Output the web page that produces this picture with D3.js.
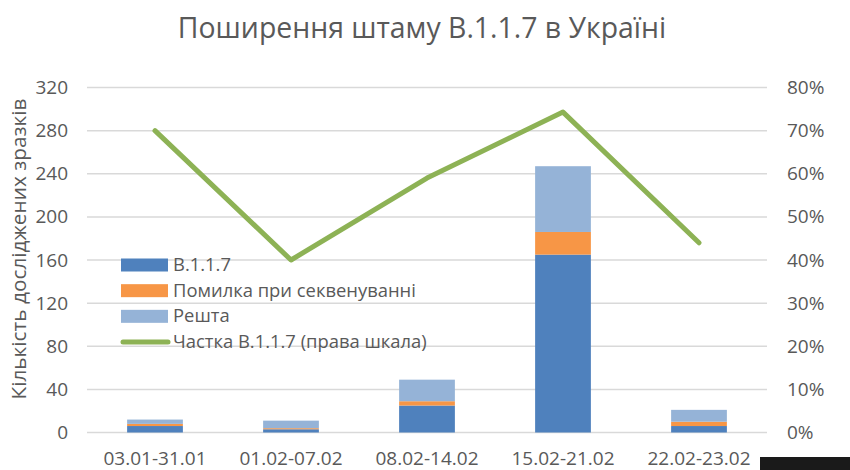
<!DOCTYPE html>
<html>
<head>
<meta charset="utf-8">
<script src="https://cdn.jsdelivr.net/npm/d3@7"></script>
<style>
  html, body { margin: 0; padding: 0; background: #fff; }
  text { font-family: "Open Sans", sans-serif; fill: #595959; }
</style>
</head>
<body>
<div id="chart"></div>
<script>
const categories = ["03.01-31.01", "01.02-07.02", "08.02-14.02", "15.02-21.02", "22.02-23.02"];
const b117 = [6, 3, 25, 165, 6];
const seqError = [2, 1, 4, 21, 4];
const rest = [4, 7, 20, 61, 11];
const share = [0.70, 0.40, 0.59, 0.743, 0.44];
const leftTicks = [0, 40, 80, 120, 160, 200, 240, 280, 320];
const rightTicks = [0, 0.1, 0.2, 0.3, 0.4, 0.5, 0.6, 0.7, 0.8];
const seriesNames = ["B.1.1.7", "Помилка при секвенуванні", "Решта"];
const lineName = "Частка B.1.1.7 (права шкала)";
const colors = ["#4f81bd", "#f79646", "#95b3d7"];

const width = 850, height = 470;

let svg = d3.select("#chart").append("svg")
  .attr("width", width)
  .attr("height", height)
  .style("display", "block");

let x = d3.scaleBand().domain(categories).range([87, 767]).paddingInner(0.59).paddingOuter(0.295);
let y = d3.scaleLinear().domain([0, 320]).range([432.5, 87.5]);
let y2 = d3.scaleLinear().domain([0, 0.8]).range([432.5, 87.5]);

svg.append("text")
  .attr("x", 422)
  .attr("y", 38)
  .attr("text-anchor", "middle")
  .style("font-size", "28.4px")
  .text("Поширення штаму B.1.1.7 в Україні");

// gridlines
svg.append("g").selectAll("line")
  .data(leftTicks)
  .enter()
  .append("line")
  .attr("x1", 87)
  .attr("x2", 767)
  .attr("y1", d => y(d))
  .attr("y2", d => y(d))
  .attr("stroke", "#d9d9d9")
  .attr("stroke-width", 1.5);

// left axis
let axisL = svg.append("g")
  .attr("transform", "translate(87,0)")
  .call(d3.axisLeft(y).tickValues(leftTicks).tickSize(0).tickPadding(19));
axisL.select(".domain").remove();
axisL.selectAll("text").style("font-size", "19px").style("font-family", '"Open Sans", sans-serif');

// right axis
let axisR = svg.append("g")
  .attr("transform", "translate(767,0)")
  .call(d3.axisRight(y2).tickValues(rightTicks).tickFormat(d3.format(".0%")).tickSize(0).tickPadding(20));
axisR.select(".domain").remove();
axisR.selectAll("text").style("font-size", "19px").style("font-family", '"Open Sans", sans-serif');

// bottom axis
let axisB = svg.append("g")
  .attr("transform", "translate(0,432.5)")
  .call(d3.axisBottom(x).tickSize(0).tickPadding(19));
axisB.select(".domain").remove();
axisB.selectAll("text").style("font-size", "19px").style("font-family", '"Open Sans", sans-serif');

svg.append("text")
  .attr("transform", "translate(26,249) rotate(-90)")
  .attr("text-anchor", "middle")
  .style("font-size", "20.8px")
  .text("Кількість досліджених зразків");

// stacked bars
let rows = categories.map((c, i) => ({ cat: c, 0: b117[i], 1: seqError[i], 2: rest[i] }));
let stacked = d3.stack().keys([0, 1, 2])(rows);

svg.append("g").selectAll("g")
  .data(stacked)
  .enter()
  .append("g")
  .attr("fill", (d, i) => colors[i])
  .selectAll("rect")
  .data(d => d)
  .enter()
  .append("rect")
  .attr("x", d => x(d.data.cat))
  .attr("width", x.bandwidth())
  .attr("y", d => y(d[1]))
  .attr("height", d => y(d[0]) - y(d[1]));

// share line
let line = d3.line()
  .x((d, i) => x(categories[i]) + x.bandwidth() / 2)
  .y(d => y2(d));

svg.append("path")
  .datum(share)
  .attr("d", line)
  .attr("fill", "none")
  .attr("stroke", "#8db255")
  .attr("stroke-width", 5)
  .attr("stroke-linecap", "round")
  .attr("stroke-linejoin", "round");

// legend
let legend = svg.append("g");
let legendY = d3.scalePoint().domain([0, 1, 2, 3]).range([265, 342]);

seriesNames.forEach((name, i) => {
  legend.append("rect")
    .attr("x", 121)
    .attr("y", legendY(i) - 6.5)
    .attr("width", 47)
    .attr("height", 13)
    .attr("fill", colors[i]);
  legend.append("text")
    .attr("x", 173)
    .attr("y", legendY(i) + 6)
    .style("font-size", "18.4px")
    .text(name);
});
legend.append("line")
  .attr("x1", 123)
  .attr("x2", 168)
  .attr("y1", legendY(3))
  .attr("y2", legendY(3))
  .attr("stroke", "#8db255")
  .attr("stroke-width", 5)
  .attr("stroke-linecap", "round");
legend.append("text")
  .attr("x", 173)
  .attr("y", legendY(3) + 6)
  .style("font-size", "18.4px")
  .text(lineName);

// dark strip in the bottom right corner of the screenshot
svg.append("rect")
  .attr("x", 760)
  .attr("y", 457)
  .attr("width", 90)
  .attr("height", 13)
  .attr("fill", "#1a1a1a");
</script>
</body>
</html>
